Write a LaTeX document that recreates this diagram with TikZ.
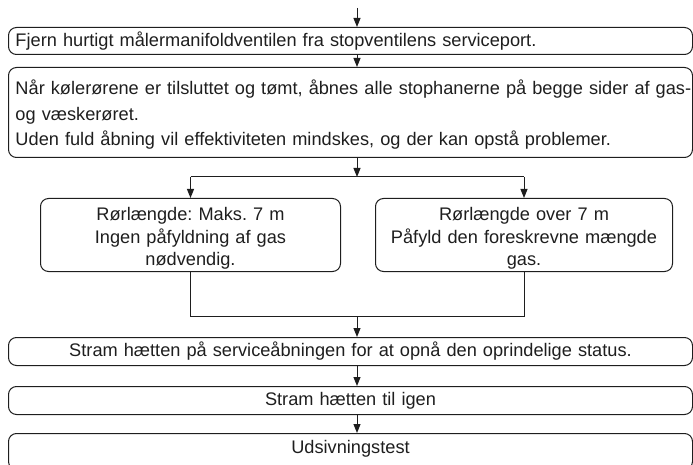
\documentclass[tikz,border=0pt]{standalone}
\usepackage{fontspec}
\setmainfont{Liberation Sans}
\usetikzlibrary{arrows.meta}
\definecolor{ink}{HTML}{1E1E1E}
\newcommand{\topstrut}[1]{\rule{0pt}{#1}}
\begin{document}
\begin{tikzpicture}[x=1pt,y=-1pt,
  box/.style={draw=ink, line width=1pt, rounded corners=8pt, inner xsep=7pt, inner ysep=0pt,
    text=ink, font=\fontsize{18.2}{25.5}\selectfont\frenchspacing},
  sidebox/.style={box, font=\fontsize{18.2}{22.8}\selectfont\frenchspacing},
  arr/.style={draw=ink, line width=1pt, -{Triangle[length=9pt,width=7pt]}},
  ln/.style={draw=ink, line width=1pt}]
\useasboundingbox (0,0) rectangle (693,465);
\clip (0,0) rectangle (693,465);
\coordinate (cx) at (357,0);
\coordinate (start) at (357,8);
\node[box, anchor=north west, minimum width=684, minimum height=27, text width=670, align=left] (b1) at (8,27)
  {Fjern hurtigt målermanifoldventilen fra stopventilens serviceport.};
\node[box, anchor=north west, minimum width=684, minimum height=90, text width=670, align=left] (b2) at (8,67)
  {\topstrut{19pt}\mbox{Når kølerørene er tilsluttet og tømt, åbnes alle stophanerne på begge sider af gas-}\\og væskerøret.\\Uden fuld åbning vil effektiviteten mindskes, og der kan opstå problemer.};
\coordinate (br) at (357,177);
\node[sidebox, anchor=north west, minimum width=300, minimum height=73, text width=286, align=center] (L) at (40,198)
  {\topstrut{20pt}Rørlængde: Maks. 7 m\\Ingen påfyldning af gas\\nødvendig.};
\node[sidebox, anchor=north west, minimum width=297, minimum height=73, text width=283, align=center] (R) at (375,198)
  {\topstrut{20pt}Rørlængde over 7 m\\Påfyld den foreskrevne mængde\\gas.};
\coordinate (jn) at (357,316);
\node[box, anchor=north west, minimum width=684, minimum height=28, text width=670, align=center] (b3) at (8,337)
  {Stram hætten på serviceåbningen for at opnå den oprindelige status.};
\node[box, anchor=north west, minimum width=684, minimum height=28, text width=670, align=center] (b4) at (8,386)
  {Stram hætten til igen};
\node[box, anchor=north west, minimum width=684, minimum height=36, text width=670, align=center] (b5) at (8,433)
  {Udsivningstest\rule[-9pt]{0pt}{9pt}};
\draw[arr] (start) -- (b1.north -| cx);
\draw[arr] (b1.south -| cx) -- (b2.north -| cx);
\draw[arr] (b2.south -| cx) -- (br);
\draw[ln] (L.north |- br) -- (R.north |- br);
\draw[arr] (L.north |- br) -- (L.north);
\draw[arr] (R.north |- br) -- (R.north);
\draw[ln] (L.south) -- (L.south |- jn) -- (R.south |- jn) -- (R.south);
\draw[arr] (jn) -- (b3.north -| jn);
\draw[arr] (b3.south -| cx) -- (b4.north -| cx);
\draw[arr] (b4.south -| cx) -- (b5.north -| cx);
\end{tikzpicture}
\end{document}
